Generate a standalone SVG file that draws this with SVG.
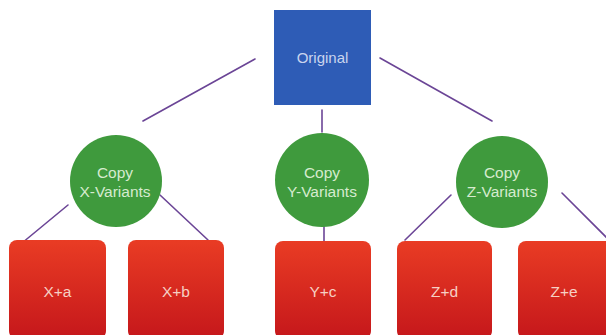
<svg xmlns="http://www.w3.org/2000/svg" width="606" height="335" viewBox="0 0 606 335">
  <defs>
    <linearGradient id="redGrad" x1="0" y1="0" x2="0" y2="1">
      <stop offset="0" stop-color="#e93c24"/>
      <stop offset="1" stop-color="#c5171b"/>
    </linearGradient>
    <style>
      .conn { stroke: #6b4596; stroke-width: 1.6; fill: none; stroke-linecap: round; }
      .circ { fill: #3f9a3d; }
      .box { fill: url(#redGrad); }
      .orig { fill: #2e5cb6; }
      .lbl { font-family: "Liberation Sans", Arial, sans-serif; font-size: 15.5px; text-anchor: middle; }
      .lbl-g { fill: #d6ebcf; }
      .lbl-r { fill: #f6d0c4; }
      .lbl-b { fill: #c9d5ee; font-size: 15px; }
    </style>
  </defs>
  <rect width="606" height="335" fill="#ffffff"/>

  <g id="connectors">
    <line class="conn" x1="255" y1="59" x2="143" y2="121"/>
    <line class="conn" x1="380" y1="58" x2="492" y2="121"/>
    <line class="conn" x1="322" y1="110" x2="322" y2="132"/>
    <line class="conn" x1="68" y1="205" x2="22" y2="243"/>
    <line class="conn" x1="160" y1="195" x2="208" y2="240"/>
    <line class="conn" x1="324" y1="223" x2="324" y2="241"/>
    <line class="conn" x1="451" y1="195" x2="405" y2="240"/>
    <line class="conn" x1="562" y1="193" x2="610" y2="241"/>
  </g>

  <g id="original">
    <rect class="orig" x="274" y="10" width="97" height="95"/>
    <text class="lbl lbl-b" x="322.5" y="63">Original</text>
  </g>

  <g id="copy-x">
    <circle class="circ" cx="116" cy="181" r="46"/>
    <text class="lbl lbl-g" x="115" y="178">Copy</text>
    <text class="lbl lbl-g" x="115" y="197">X-Variants</text>
  </g>
  <g id="copy-y">
    <circle class="circ" cx="322" cy="180" r="47"/>
    <text class="lbl lbl-g" x="322" y="178">Copy</text>
    <text class="lbl lbl-g" x="322" y="197">Y-Variants</text>
  </g>
  <g id="copy-z">
    <circle class="circ" cx="502" cy="182" r="46"/>
    <text class="lbl lbl-g" x="502" y="178">Copy</text>
    <text class="lbl lbl-g" x="502" y="197">Z-Variants</text>
  </g>

  <g id="x-a">
    <rect class="box" x="9" y="240" width="97" height="99" rx="8"/>
    <text class="lbl lbl-r" x="57.5" y="297">X+a</text>
  </g>
  <g id="x-b">
    <rect class="box" x="128" y="240" width="96" height="99" rx="8"/>
    <text class="lbl lbl-r" x="176" y="297">X+b</text>
  </g>
  <g id="y-c">
    <rect class="box" x="275" y="241" width="96" height="98" rx="8"/>
    <text class="lbl lbl-r" x="323" y="297">Y+c</text>
  </g>
  <g id="z-d">
    <rect class="box" x="397" y="241" width="95" height="98" rx="8"/>
    <text class="lbl lbl-r" x="444.5" y="297">Z+d</text>
  </g>
  <g id="z-e">
    <rect class="box" x="518" y="241" width="96" height="98" rx="8"/>
    <text class="lbl lbl-r" x="564" y="297">Z+e</text>
  </g>
</svg>
